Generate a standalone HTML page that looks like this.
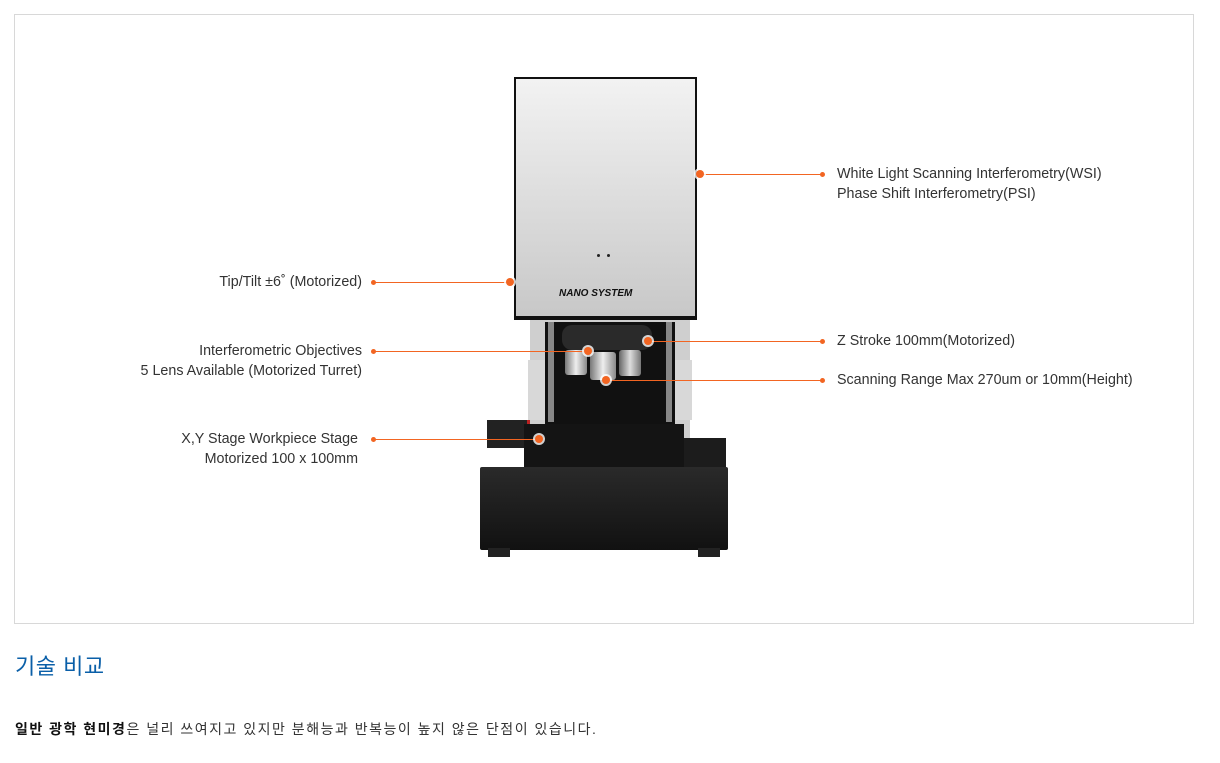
<!DOCTYPE html>
<html><head><meta charset="utf-8"><style>
body{margin:0;width:1220px;height:763px;background:#fff;position:relative;overflow:hidden;font-family:"Liberation Sans","Noto Sans CJK KR",sans-serif}
.a{position:absolute}
.t{position:absolute;font-size:14.3px;color:#333;line-height:20px;white-space:nowrap}
.r{text-align:right}
.ln{position:absolute;height:1px;background:#f26522}
.d{position:absolute;width:5px;height:5px;border-radius:50%;background:#f26522}
.ring{position:absolute;width:8px;height:8px;border-radius:50%;background:#f26522;box-shadow:0 0 0 2px rgba(255,255,255,.8)}
</style></head><body>
<div class="a" style="left:14px;top:14px;width:1178px;height:608px;border:1px solid #d8d8d8"></div>

<div class="a" style="left:530px;top:318px;width:160px;height:120px;background:#cfcfcf"></div>
<div class="a" style="left:528px;top:360px;width:18px;height:60px;background:#d8d8d8"></div>
<div class="a" style="left:674px;top:360px;width:18px;height:60px;background:#d8d8d8"></div>
<div class="a" style="left:545px;top:322px;width:130px;height:118px;background:#111"></div>
<div class="a" style="left:548px;top:322px;width:6px;height:100px;background:#888"></div>
<div class="a" style="left:666px;top:322px;width:6px;height:100px;background:#888"></div>
<div class="a" style="left:562px;top:325px;width:90px;height:25px;background:#2a2a2a;border-radius:10px"></div>
<div class="a" style="left:565px;top:350px;width:22px;height:25px;background:linear-gradient(90deg,#777,#eee,#888);border-radius:3px"></div>
<div class="a" style="left:590px;top:352px;width:26px;height:28px;background:linear-gradient(90deg,#777,#eee,#888);border-radius:3px"></div>
<div class="a" style="left:619px;top:350px;width:22px;height:26px;background:linear-gradient(90deg,#666,#ddd,#777);border-radius:3px"></div>
<div class="a" style="left:514px;top:77px;width:183px;height:243px;background:linear-gradient(180deg,#f2f2f2,#d9d9d9 60%,#c8c8c8);border:2px solid #111;border-bottom:4px solid #111;box-sizing:border-box"></div>
<div class="a" style="left:559px;top:288px;font:italic bold 10px 'Liberation Sans',sans-serif;color:#111">NANO SYSTEM</div>
<div class="a" style="left:597px;top:254px;width:3px;height:3px;border-radius:50%;background:#222"></div>
<div class="a" style="left:607px;top:254px;width:3px;height:3px;border-radius:50%;background:#222"></div>
<div class="a" style="left:487px;top:420px;width:40px;height:28px;background:#222;border-right:3px solid #b22"></div>
<div class="a" style="left:524px;top:424px;width:160px;height:46px;background:#141414"></div>
<div class="a" style="left:684px;top:438px;width:42px;height:32px;background:#1c1c1c"></div>
<div class="a" style="left:480px;top:467px;width:248px;height:83px;background:linear-gradient(180deg,#2a2a2a,#111);border-radius:2px"></div>
<div class="a" style="left:488px;top:548px;width:22px;height:9px;background:#222"></div>
<div class="a" style="left:698px;top:548px;width:22px;height:9px;background:#222"></div>

<div class="ln" style="left:700px;top:174px;width:122px"></div><div class="d" style="left:820px;top:172px"></div><div class="ring" style="left:696px;top:170px"></div>
<div class="ln" style="left:373px;top:282px;width:137px"></div><div class="d" style="left:371px;top:280px"></div><div class="ring" style="left:506px;top:278px"></div>
<div class="ln" style="left:373px;top:351px;width:215px"></div><div class="d" style="left:371px;top:349px"></div><div class="ring" style="left:584px;top:347px"></div>
<div class="ln" style="left:648px;top:341px;width:174px"></div><div class="d" style="left:820px;top:339px"></div><div class="ring" style="left:644px;top:337px"></div>
<div class="ln" style="left:606px;top:380px;width:216px"></div><div class="d" style="left:820px;top:378px"></div><div class="ring" style="left:602px;top:376px"></div>
<div class="ln" style="left:373px;top:439px;width:166px"></div><div class="d" style="left:371px;top:437px"></div><div class="ring" style="left:535px;top:435px"></div>

<div class="t" style="left:837px;top:164px">White Light Scanning Interferometry(WSI)<br>Phase Shift Interferometry(PSI)</div>
<div class="t" style="left:837px;top:331px">Z Stroke 100mm(Motorized)</div>
<div class="t" style="left:837px;top:370px">Scanning Range Max 270um or 10mm(Height)</div>
<div class="t r" style="right:858px;top:272px">Tip/Tilt ±6˚ (Motorized)</div>
<div class="t r" style="right:858px;top:341px">Interferometric Objectives<br>5 Lens Available (Motorized Turret)</div>
<div class="t r" style="right:862px;top:429px">X,Y Stage Workpiece Stage<br>Motorized 100 x 100mm</div>

<div class="a" style="left:15px;top:653px;font-size:22px;color:#0a5fa8;line-height:28px;letter-spacing:0.5px">기술 비교</div>
<div class="a" style="left:15px;top:719px;font-size:14px;color:#333;line-height:20px;letter-spacing:1.5px;white-space:nowrap"><b style="color:#111">일반 광학 현미경</b>은 널리 쓰여지고 있지만 분해능과 반복능이 높지 않은 단점이 있습니다.</div>
</body></html>
